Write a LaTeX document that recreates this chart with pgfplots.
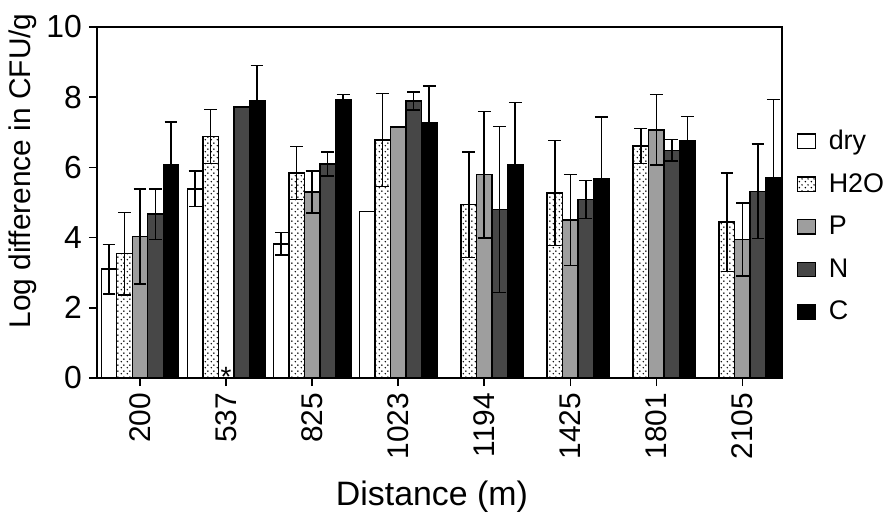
\documentclass[border=0pt]{standalone}
\usepackage{fontspec}
\setmainfont{Liberation Sans}
\usepackage{pgfplots}
\pgfplotsset{compat=1.18}
\usepackage{pgfplotstable}
\usetikzlibrary{patterns}

% staggered dot stipple for the H2O bars
\pgfdeclarepatternformonly{stipple}{\pgfpointorigin}{\pgfpoint{3bp}{3bp}}{\pgfpoint{3bp}{3bp}}{
  \pgfpathcircle{\pgfpoint{0.75bp}{0.75bp}}{0.45bp}
  \pgfpathcircle{\pgfpoint{2.25bp}{2.25bp}}{0.45bp}
  \pgfusepath{fill}
}

% x = category index (200,537,825,1023,1194,1425,1801,2105), y = mean, e = error
\pgfplotstableread{
x y e
0 3.10 0.70
1 5.39 0.51
2 3.82 0.32
3 4.75 0.00
}\drydata
\pgfplotstableread{
x y e
0 3.54 1.18
1 6.88 0.77
2 5.84 0.76
3 6.78 1.33
4 4.94 1.50
5 5.27 1.50
6 6.61 0.50
7 4.44 1.40
}\waterdata
\pgfplotstableread{
x y e
0 4.03 1.35
2 5.30 0.60
3 7.15 0.00
4 5.79 1.80
5 4.50 1.30
6 7.07 1.00
7 3.94 1.04
}\pdata
\pgfplotstableread{
x y e
0 4.67 0.72
1 7.72 0.00
2 6.10 0.34
3 7.89 0.26
4 4.80 2.37
5 5.09 0.54
6 6.49 0.31
7 5.32 1.34
}\ndata
\pgfplotstableread{
x y e
0 6.08 1.22
1 7.91 1.00
2 7.94 0.14
3 7.28 1.04
4 6.07 1.78
5 5.68 1.76
6 6.77 0.68
7 5.72 2.22
}\cdata

\begin{document}
\begin{tikzpicture}
\begin{axis}[
    scale only axis,
    width=342.5bp, height=175.5bp,
    ybar, bar width=0.18,
    xmin=-0.5, xmax=7.46,
    ymin=0, ymax=10,
    xtick={0,...,7},
    xticklabels={200,537,825,1023,1194,1425,1801,2105},
    ytick={0,2,...,10},
    x tick label style={rotate=90, anchor=east},
    xtick pos=left, ytick pos=left,
    tick align=outside, major tick length=4bp,
    tick style={black, line width=0.8bp},
    axis line style={line width=0.8bp},
    /pgf/number format/assume math mode=true,
    yticklabel style={font=\fontsize{16}{16}\selectfont},
    xticklabel style={font=\fontsize{15}{15}\selectfont},
    ylabel={Log difference in CFU/g},
    ylabel style={at={(axis description cs:-0.088,0.59)}, anchor=south, inner sep=0pt,
        font=\fontsize{15}{15}\selectfont},
    xlabel={Distance (m)},
    xlabel style={at={(axis description cs:0.489,-0.362)}, anchor=base,
        font=\fontsize{17}{17}\selectfont},
    clip=false,
    every axis plot/.append style={draw=black, line width=0.7bp},
    error bars/error bar style={black, line width=0.75bp},
    error bars/error mark options={rotate=90, black, mark size=3.2bp, line width=0.75bp},
    legend style={at={(1.012,0.432)}, anchor=west, draw=none, fill=none,
        font=\fontsize{13.5}{13.5}\selectfont, row sep=7.5bp, cells={anchor=west},
        nodes={inner sep=1.5bp},
        /tikz/every odd column/.append style={column sep=5bp}},
    legend image code/.code={\draw[#1, line width=0.6bp] (0bp,-3.6bp) rectangle (9bp,3.6bp);},
]
\addplot[bar shift=-0.36, fill=white, error bars/.cd, y dir=both, y explicit]
    table[x=x, y=y, y error=e] {\drydata};
\addplot[bar shift=-0.18, fill=white, postaction={pattern=stipple}, error bars/.cd, y dir=both, y explicit]
    table[x=x, y=y, y error=e] {\waterdata};
\addplot[bar shift=0, fill=black!38, error bars/.cd, y dir=both, y explicit]
    table[x=x, y=y, y error=e] {\pdata};
\addplot[bar shift=0.18, fill=black!72, error bars/.cd, y dir=both, y explicit]
    table[x=x, y=y, y error=e] {\ndata};
\addplot[bar shift=0.36, fill=black, error bars/.cd, y dir=both, y explicit]
    table[x=x, y=y, y error=e] {\cdata};
\legend{dry, H2O, P, N, C}
\node[anchor=base, inner sep=0pt, font=\fontsize{14}{14}\selectfont] at (axis cs:1,-0.25) {*};
\end{axis}
\pgfresetboundingbox
\path ([shift={(-48.5bp,-67.5bp)}]current axis.south west)
    rectangle ([shift={(395bp,189bp)}]current axis.south west);
\end{tikzpicture}
\end{document}
